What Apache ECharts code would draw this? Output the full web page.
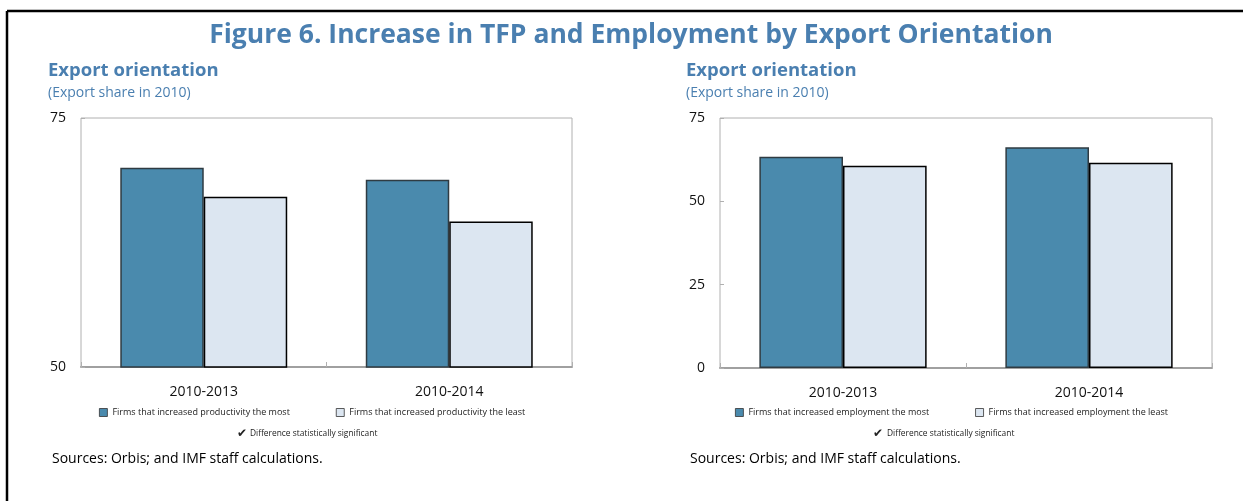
<!DOCTYPE html>
<html>
<head>
<meta charset="utf-8">
<title>Figure 6. Increase in TFP and Employment by Export Orientation</title>
<script src="https://cdn.jsdelivr.net/npm/echarts@6/dist/echarts.min.js"></script>
<style>
  html, body { margin: 0; padding: 0; background: #ffffff; }
  #chart { width: 1243px; height: 501px; }
</style>
</head>
<body>
<div id="chart"></div>
<script>
// Periods compared in both panels
const categories = ['2010-2013', '2010-2014'];

// Left panel: export share (%) by productivity growth group
const tfpMostName = 'Firms that increased productivity the most';
const tfpLeastName = 'Firms that increased productivity the least';
const tfpMost = [70.0, 68.8];
const tfpLeast = [67.1, 64.6];

// Right panel: export share (%) by employment growth group
const empMostName = 'Firms that increased employment the most';
const empLeastName = 'Firms that increased employment the least';
const empMost = [63.4, 66.2];
const empLeast = [60.7, 61.6];

// Axis ranges
const leftAxis = { min: 50, max: 75, interval: 25 };
const rightAxis = { min: 0, max: 75, interval: 25 };

const FONT = '"Open Sans", "DejaVu Sans", sans-serif';
const BLUE = '#4a7fb0';
const DARK = '#4a8aad';
const LIGHT = '#dce6f1';

const chart = echarts.init(document.getElementById('chart'), null, { renderer: 'canvas' });

function xAxisFor(gridIndex) {
  return {
    type: 'category',
    gridIndex: gridIndex,
    data: categories,
    axisLine: { show: true, lineStyle: { color: '#a0a0a0', width: 2 } },
    axisTick: { show: true, inside: true, length: 5, lineStyle: { color: '#b0b0b0' } },
    axisLabel: { color: '#111', fontSize: 14, fontFamily: FONT, margin: 18 },
    splitLine: { show: false }
  };
}

function yAxisFor(gridIndex, range) {
  return {
    type: 'value',
    gridIndex: gridIndex,
    min: range.min, max: range.max, interval: range.interval,
    axisLine: { show: false },
    axisTick: { show: true, inside: true, length: 4, lineStyle: { color: '#b0b0b0' } },
    axisLabel: { color: '#111', fontSize: 14, fontFamily: FONT, margin: 15 },
    splitLine: { show: false }
  };
}

function barSeries(name, data, idx, dark) {
  return {
    name: name,
    type: 'bar',
    xAxisIndex: idx,
    yAxisIndex: idx,
    data: data,
    barGap: '0%',
    barCategoryGap: '32%',
    itemStyle: dark
      ? { color: DARK, borderColor: '#2f3b42', borderWidth: 1.5 }
      : { color: LIGHT, borderColor: '#000000', borderWidth: 1.5 },
    emphasis: { disabled: true },
    z: 2
  };
}

const legendText = { fontSize: 9, color: '#222', fontFamily: FONT };
const legendIcon = { borderWidth: 0.8, borderColor: '#333' };

chart.setOption({
  animation: false,
  backgroundColor: '#ffffff',
  title: [
    {
      text: 'Figure 6. Increase in TFP and Employment by Export Orientation',
      left: 626, top: 17, textAlign: 'center',
      textStyle: { color: BLUE, fontSize: 26.5, fontWeight: 'bold', fontFamily: FONT }
    },
    {
      text: 'Export orientation',
      subtext: '(Export share in 2010)',
      left: 48, top: 61, itemGap: 6, padding: 0,
      textStyle: { color: BLUE, fontSize: 18.5, fontWeight: 'bold', fontFamily: FONT },
      subtextStyle: { color: BLUE, fontSize: 14, fontFamily: FONT }
    },
    {
      text: 'Export orientation',
      subtext: '(Export share in 2010)',
      left: 686, top: 61, itemGap: 6, padding: 0,
      textStyle: { color: BLUE, fontSize: 18.5, fontWeight: 'bold', fontFamily: FONT },
      subtextStyle: { color: BLUE, fontSize: 14, fontFamily: FONT }
    }
  ],
  legend: [
    {
      data: [tfpMostName, tfpLeastName],
      left: 99, top: 408, padding: 0,
      icon: 'rect', itemWidth: 8, itemHeight: 8, itemGap: 46,
      itemStyle: legendIcon,
      textStyle: legendText,
      selectedMode: false
    },
    {
      data: [empMostName, empLeastName],
      left: 735, top: 408, padding: 0,
      icon: 'rect', itemWidth: 8, itemHeight: 8, itemGap: 46,
      itemStyle: legendIcon,
      textStyle: legendText,
      selectedMode: false
    }
  ],
  grid: [
    { left: 81, top: 118, width: 491, height: 249, show: true, borderColor: '#b0b0b0', borderWidth: 1, backgroundColor: 'transparent' },
    { left: 720, top: 118, width: 492, height: 250, show: true, borderColor: '#b0b0b0', borderWidth: 1, backgroundColor: 'transparent' }
  ],
  xAxis: [xAxisFor(0), xAxisFor(1)],
  yAxis: [yAxisFor(0, leftAxis), yAxisFor(1, rightAxis)],
  series: [
    barSeries(tfpMostName, tfpMost, 0, true),
    barSeries(tfpLeastName, tfpLeast, 0, false),
    barSeries(empMostName, empMost, 1, true),
    barSeries(empLeastName, empLeast, 1, false)
  ],
  graphic: [
    // frame around the figure (top and left edges)
    { type: 'line', shape: { x1: 7, y1: 11, x2: 1243, y2: 11 }, style: { stroke: '#000', lineWidth: 2.5 } },
    { type: 'line', shape: { x1: 7, y1: 11, x2: 7, y2: 501 }, style: { stroke: '#000', lineWidth: 2.5 } },
    // significance notes
    { type: 'text', left: 237, top: 428, style: { text: '\u2714', fontSize: 12, fill: '#222', fontFamily: '"DejaVu Sans", sans-serif' } },
    { type: 'text', left: 250, top: 430, style: { text: 'Difference statistically significant', fontSize: 8.4, fill: '#222', fontFamily: FONT } },
    { type: 'text', left: 873, top: 428, style: { text: '\u2714', fontSize: 12, fill: '#222', fontFamily: '"DejaVu Sans", sans-serif' } },
    { type: 'text', left: 887, top: 430, style: { text: 'Difference statistically significant', fontSize: 8.4, fill: '#222', fontFamily: FONT } },
    // sources
    { type: 'text', left: 52, top: 452, style: { text: 'Sources: Orbis; and IMF staff calculations.', fontSize: 14, fill: '#000', fontFamily: FONT } },
    { type: 'text', left: 690, top: 452, style: { text: 'Sources: Orbis; and IMF staff calculations.', fontSize: 14, fill: '#000', fontFamily: FONT } }
  ]
});
</script>
</body>
</html>
